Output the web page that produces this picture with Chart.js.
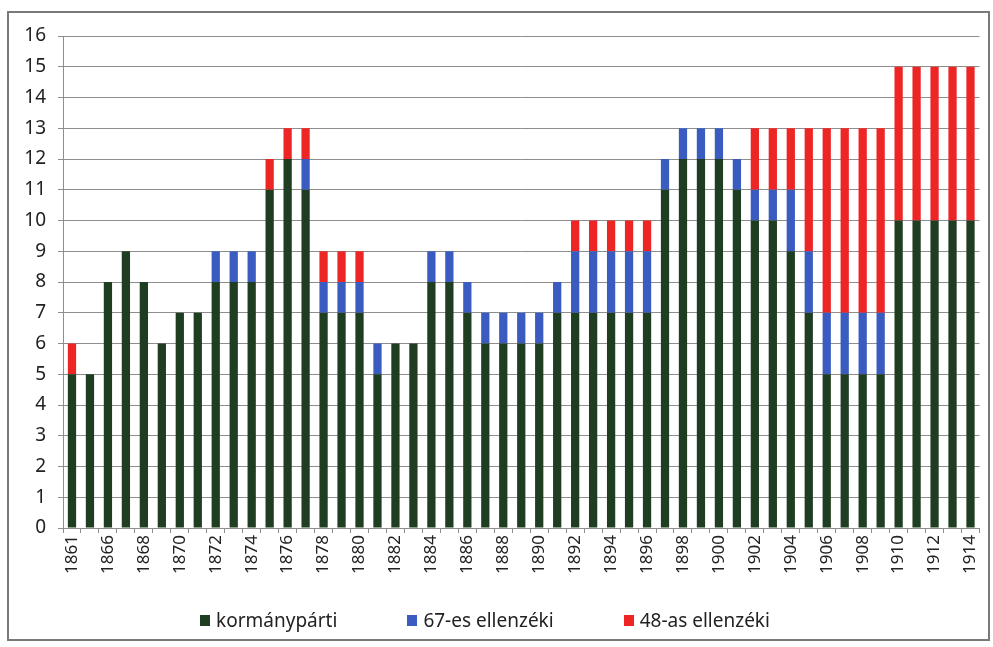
<!DOCTYPE html>
<html>
<head>
<meta charset="utf-8">
<title>Képviselők megoszlása</title>
<script src="https://cdn.jsdelivr.net/npm/chart.js@4/dist/chart.umd.min.js"></script>
<style>
  body { margin: 0; background: #fff; }
  #frame {
    position: absolute; left: 7px; top: 11px; width: 983px; height: 630px;
    box-sizing: border-box; border: 2px solid #7a7a7a;
  }
  #wrap { position: absolute; left: 0; top: 0; width: 993px; height: 647px; }
  #legend {
    position: absolute; left: 0; width: 970px; top: 607px;
    display: flex; justify-content: center; gap: 70px;
    font-family: 'Noto Sans', sans-serif; font-size: 19px; color: #222;
  }
  #legend span { display: flex; align-items: center; white-space: nowrap; }
  #legend i { display: inline-block; width: 10px; height: 11px; margin-right: 6px; }
</style>
</head>
<body>
<div id="frame"></div>
<div id="wrap"><canvas id="chart"></canvas></div>
<div id="legend"></div>
<script>
const years = ['1861', '1865', '1866', '1867', '1868', '1869', '1870', '1871', '1872', '1873',
    '1874', '1875', '1876', '1877', '1878', '1879', '1880', '1881', '1882', '1883',
    '1884', '1885', '1886', '1887', '1888', '1889', '1890', '1891', '1892', '1893',
    '1894', '1895', '1896', '1897', '1898', '1899', '1900', '1901', '1902', '1903',
    '1904', '1905', '1906', '1907', '1908', '1909', '1910', '1911', '1912', '1913', '1914'];

const kormanyparti = [5, 5, 8, 9, 8, 6, 7, 7, 8, 8,
    8, 11, 12, 11, 7, 7, 7, 5, 6, 6,
    8, 8, 7, 6, 6, 6, 6, 7, 7, 7,
    7, 7, 7, 11, 12, 12, 12, 11, 10, 10,
    9, 7, 5, 5, 5, 5, 10, 10, 10, 10, 10];

const ellenzeki67 = [0, 0, 0, 0, 0, 0, 0, 0, 1, 1,
    1, 0, 0, 1, 1, 1, 1, 1, 0, 0,
    1, 1, 1, 1, 1, 1, 1, 1, 2, 2,
    2, 2, 2, 1, 1, 1, 1, 1, 1, 1,
    2, 2, 2, 2, 2, 2, 0, 0, 0, 0, 0];

const ellenzeki48 = [1, 0, 0, 0, 0, 0, 0, 0, 0, 0,
    0, 1, 1, 1, 1, 1, 1, 0, 0, 0,
    0, 0, 0, 0, 0, 0, 0, 0, 1, 1,
    1, 1, 1, 0, 0, 0, 0, 0, 2, 2,
    2, 4, 6, 6, 6, 6, 5, 5, 5, 5, 5];

const gridColor = '#8e8e8e';

// html legend built from the chart's own datasets
const htmlLegend = {
    id: 'htmlLegend',
    afterUpdate(chart) {
        const box = document.getElementById('legend');
        box.innerHTML = '';
        chart.data.datasets.forEach(ds => {
            const item = document.createElement('span');
            const mark = document.createElement('i');
            mark.style.background = ds.backgroundColor;
            item.appendChild(mark);
            item.appendChild(document.createTextNode(ds.label));
            box.appendChild(item);
        });
    }
};

new Chart(document.getElementById('chart'), {
    type: 'bar',
    data: {
        labels: years,
        datasets: [
            { label: 'kormánypárti', data: kormanyparti, backgroundColor: '#1f3d20' },
            { label: '67-es ellenzéki', data: ellenzeki67, backgroundColor: '#3a5cc0' },
            { label: '48-as ellenzéki', data: ellenzeki48, backgroundColor: '#ee2525' }
        ]
    },
    options: {
        responsive: true,
        maintainAspectRatio: false,
        animation: false,
        categoryPercentage: 1,
        barPercentage: 0.46,
        layout: { padding: { left: 2, top: 36, right: 10, bottom: 65 } },
        scales: {
            x: {
                stacked: true,
                grid: { drawOnChartArea: false, drawTicks: true, tickLength: 5, color: gridColor },
                border: { color: gridColor },
                ticks: {
                    autoSkip: false,
                    maxRotation: 90,
                    minRotation: 90,
                    padding: 2,
                    color: '#222',
                    font: { family: 'Noto Sans', size: 17 },
                    callback: (v, i) => (i % 2 === 0 ? years[i] : '')
                },
                afterFit: s => { s.height = 54; }
            },
            y: {
                stacked: true,
                min: 0,
                max: 16,
                grid: { color: gridColor, tickLength: 5 },
                border: { color: gridColor },
                ticks: {
                    stepSize: 1,
                    padding: 12,
                    color: '#222',
                    font: { family: 'Noto Sans', size: 19 }
                },
                afterFit: s => { s.width = 61; }
            }
        },
        plugins: {
            tooltip: { enabled: false },
            legend: { display: false }
        }
    },
    plugins: [htmlLegend]
});
</script>
</body>
</html>
